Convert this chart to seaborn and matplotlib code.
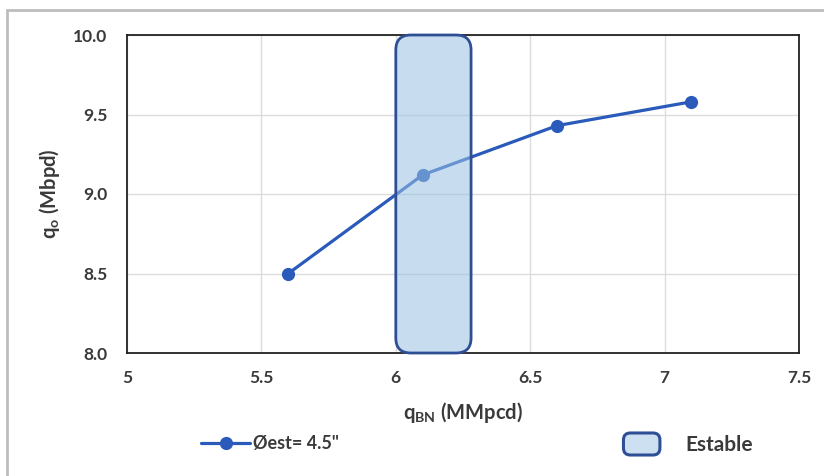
import matplotlib
matplotlib.use("Agg")
import matplotlib.pyplot as plt
import seaborn as sns
import pandas as pd
from matplotlib.patches import FancyBboxPatch, Rectangle
from matplotlib.lines import Line2D
from matplotlib.legend_handler import HandlerPatch

# Gas injection rate vs. oil production
q_gas = [5.6, 6.1, 6.6, 7.1]
q_oil = [8.50, 9.12, 9.43, 9.58]
series_label = 'Øest= 4.5"'

# Stable operating window
stable_lo, stable_hi = 6.0, 6.28
stable_label = "Estable"

x_ticks = [5, 5.5, 6, 6.5, 7, 7.5]
x_tick_labels = ["5", "5.5", "6", "6.5", "7", "7.5"]
y_ticks = [8.0, 8.5, 9.0, 9.5, 10.0]
y_tick_labels = ["8.0", "8.5", "9.0", "9.5", "10.0"]

sns.set_theme(style="white")
plt.rcParams["font.family"] = ["Lato", "DejaVu Sans"]
plt.rcParams["mathtext.fontset"] = "custom"
plt.rcParams["mathtext.rm"] = "Lato:bold"
plt.rcParams["mathtext.bf"] = "Lato:bold"

line_color = "#2A5ABA"
edge_color = "#2F4F95"
text_color = "#3a3a3a"
fill_rgba = (0.60, 0.76, 0.89, 0.55)

df = pd.DataFrame({"q_gas": q_gas, "q_oil": q_oil})

fig = plt.figure(figsize=(8.24, 4.76), dpi=100)
ax = fig.add_axes([127 / 824, 1 - 353 / 476, (799 - 127) / 824, (353 - 35) / 476])

sns.lineplot(data=df, x="q_gas", y="q_oil", ax=ax, color=line_color,
             linewidth=2.3, marker="o", markersize=9.5, markeredgewidth=0,
             zorder=3)

ax.set_xlim(5, 7.5)
ax.set_ylim(8.0, 10.0)
ax.set_xticks(x_ticks)
ax.set_xticklabels(x_tick_labels)
ax.set_yticks(y_ticks)
ax.set_yticklabels(y_tick_labels)
ax.grid(True, color="#dcdcdc", linewidth=1.0)
ax.set_axisbelow(True)
for side in ax.spines.values():
    side.set_color("#222222")
    side.set_linewidth(1.3)
ax.tick_params(axis="x", length=0, labelsize=12.5, labelcolor=text_color, pad=12)
ax.tick_params(axis="y", length=0, labelsize=12.5, labelcolor=text_color, pad=14)
for lab in ax.get_xticklabels() + ax.get_yticklabels():
    lab.set_fontweight("bold")

# Rounded shading of the stable window, drawn over the curve
x_per_px = 2.5 / 672
y_per_px = 2.0 / 318
r = 15 * x_per_px
box = FancyBboxPatch((stable_lo, 8.0), stable_hi - stable_lo, 2.0,
                     boxstyle=f"round,pad=0,rounding_size={r}",
                     mutation_aspect=y_per_px / x_per_px,
                     facecolor=fill_rgba, edgecolor=edge_color,
                     linewidth=2.0, zorder=4, clip_on=False)
ax.add_patch(box)

ax.set_xlabel(r"q$_\mathrm{BN}$ (MMpcd)", fontsize=14.5, fontweight="bold",
              color=text_color, labelpad=10)
ax.set_ylabel("")
ax.text((50 - 127) / 672, 0.5, r"q$_\mathrm{o}$ (Mbpd)", transform=ax.transAxes,
        rotation=90, ha="center", va="center", fontsize=14.5,
        fontweight="bold", color=text_color)

# Legend entries placed below the chart
h_line = Line2D([], [], color=line_color, linewidth=2.3, marker="o",
                markersize=9.5, markeredgewidth=0)
fig.legend([h_line], [series_label], loc="center", bbox_to_anchor=(270 / 824, 1 - 444 / 476),
           frameon=False, handlelength=2.7, handletextpad=0.15,
           labelcolor=text_color, prop={"weight": "bold", "size": 13})


def rounded_key(legend, orig_handle, xdescent, ydescent, width, height, fontsize):
    return FancyBboxPatch((-xdescent, -ydescent), width, height,
                          boxstyle="round,pad=0,rounding_size=5")


key = Rectangle((0, 0), 1, 1, facecolor=(0.80, 0.88, 0.95),
                edgecolor=edge_color, linewidth=2.2)
fig.legend([key], [stable_label], loc="center", bbox_to_anchor=(688 / 824, 1 - 444 / 476),
           frameon=False, handlelength=1.75, handleheight=1.25, handletextpad=1.2,
           labelcolor=text_color, prop={"weight": "bold", "size": 15},
           handler_map={Rectangle: HandlerPatch(patch_func=rounded_key)})

# Outer chart-area border
fig.add_artist(Rectangle((7 / 824, -0.05), 1.05, 1 - 10 / 476 + 0.05,
                         transform=fig.transFigure, fill=False,
                         edgecolor="#bdbdbd", linewidth=2.0))

fig.savefig("out.png", dpi=100)
